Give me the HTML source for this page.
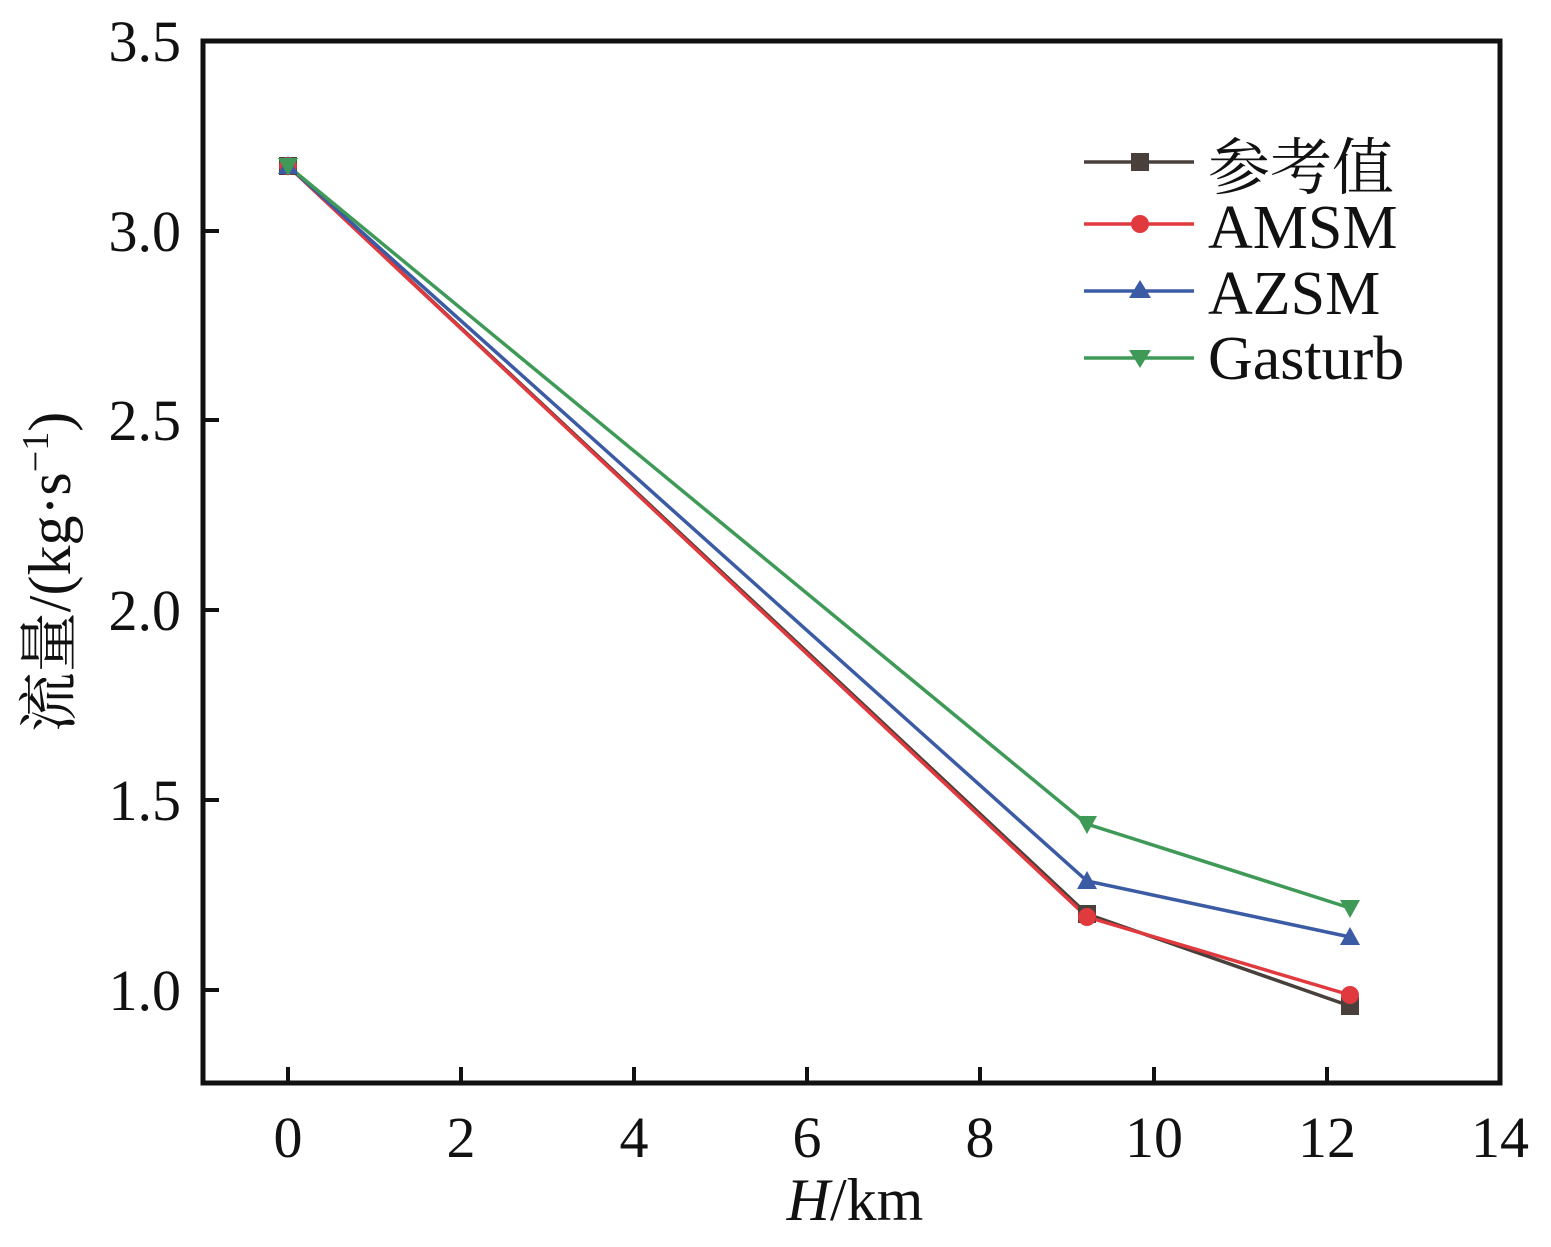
<!DOCTYPE html>
<html><head><meta charset="utf-8"><style>
body{margin:0;background:#fff}
text{font-family:"Liberation Serif","Noto Serif CJK SC",serif;fill:#111}
</style></head><body>
<svg width="1551" height="1242" viewBox="0 0 1551 1242" xmlns="http://www.w3.org/2000/svg">
<rect x="203" y="41" width="1297" height="1042" fill="none" stroke="#111" stroke-width="5"/>
<g stroke="#111" stroke-width="4">
<line x1="288" y1="1083" x2="288" y2="1067"/><line x1="461" y1="1083" x2="461" y2="1067"/>
<line x1="634" y1="1083" x2="634" y2="1067"/><line x1="807" y1="1083" x2="807" y2="1067"/>
<line x1="980" y1="1083" x2="980" y2="1067"/><line x1="1154" y1="1083" x2="1154" y2="1067"/>
<line x1="1327" y1="1083" x2="1327" y2="1067"/>
<line x1="203" y1="231" x2="219" y2="231"/><line x1="203" y1="420" x2="219" y2="420"/>
<line x1="203" y1="610" x2="219" y2="610"/><line x1="203" y1="800" x2="219" y2="800"/>
<line x1="203" y1="990" x2="219" y2="990"/>
</g>
<g font-size="58" text-anchor="middle">
<text x="288" y="1157">0</text><text x="461" y="1157">2</text><text x="634" y="1157">4</text>
<text x="807" y="1157">6</text><text x="980" y="1157">8</text><text x="1154" y="1157">10</text>
<text x="1327" y="1157">12</text><text x="1500" y="1157">14</text>
</g>
<g font-size="58" text-anchor="end">
<text x="181" y="61">3.5</text><text x="181" y="251">3.0</text><text x="181" y="440">2.5</text>
<text x="181" y="630">2.0</text><text x="181" y="820">1.5</text><text x="181" y="1010">1.0</text>
</g>
<text x="855" y="1220" font-size="60" text-anchor="middle"><tspan font-style="italic">H</tspan>/km</text>
<text transform="translate(70,572) rotate(-90)" font-size="60" text-anchor="middle">流量/(kg·s<tspan font-size="38" dy="-22">−1</tspan><tspan dy="22">)</tspan></text>
<g fill="none" stroke-width="3.5">
<polyline stroke="#4a403b" points="288,166 1087,914 1350,1006"/>
<polyline stroke="#e0393e" points="288,166 1087,917 1350,995"/>
<polyline stroke="#3b5ba5" points="288,166 1087,881 1350,937"/>
<polyline stroke="#3f9a58" points="288,166 1087,824 1350,908"/>
</g>
<g fill="#4a403b"><rect x="279" y="157" width="18" height="18"/><rect x="1078" y="905" width="18" height="18"/><rect x="1341" y="997" width="18" height="18"/></g>
<g fill="#e0393e"><circle cx="288" cy="166" r="9"/><circle cx="1087" cy="917" r="9"/><circle cx="1350" cy="995" r="9"/></g>
<g fill="#3b5ba5"><polygon points="288,156 278,174 298,174"/><polygon points="1087,871 1077,889 1097,889"/><polygon points="1350,927 1340,945 1360,945"/></g>
<g fill="#3f9a58"><polygon points="288,176 278,158 298,158"/><polygon points="1087,834 1077,816 1097,816"/><polygon points="1350,918 1340,900 1360,900"/></g>
<g stroke-width="3.5">
<line x1="1084" y1="162" x2="1194" y2="162" stroke="#4a403b"/>
<line x1="1084" y1="224" x2="1194" y2="224" stroke="#e0393e"/>
<line x1="1084" y1="291" x2="1194" y2="291" stroke="#3b5ba5"/>
<line x1="1084" y1="358" x2="1194" y2="358" stroke="#3f9a58"/>
</g>
<rect x="1131" y="153" width="18" height="18" fill="#4a403b"/>
<circle cx="1140" cy="224" r="9" fill="#e0393e"/>
<polygon points="1140,280 1129,298 1151,298" fill="#3b5ba5"/>
<polygon points="1140,368 1129,350 1151,350" fill="#3f9a58"/>
<g font-size="62">
<text x="1208" y="189">参考值</text>
<text x="1208" y="248">AMSM</text>
<text x="1208" y="314">AZSM</text>
<text x="1208" y="379">Gasturb</text>
</g>
</svg>
</body></html>
